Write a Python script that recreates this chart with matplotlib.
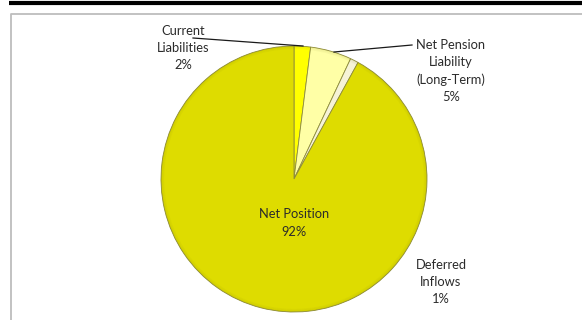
import matplotlib
matplotlib.use("Agg")
import matplotlib.pyplot as plt
from matplotlib.patches import Wedge

# Statement of net position shares (percent)
categories = ["Current\nLiabilities", "Net Pension\nLiability\n(Long-Term)",
              "Deferred\nInflows", "Net Position"]
shares = [2, 5, 1, 92]
colors = ["#FFFF00", "#FFFFA6", "#F6F3D6", "#DEDC00"]

W, H = 582, 320
fig = plt.figure(figsize=(W / 100, H / 100), dpi=100)
ax = fig.add_axes([0, 0, 1, 1])

cx, cy, r = 294, H - 179, 133

wedges, _ = ax.pie(shares, colors=colors, startangle=90, counterclock=False,
                   center=(cx, cy), radius=r, frame=True,
                   wedgeprops=dict(edgecolor="#8E8C3A", linewidth=0.6))

# soft bevel along the outer rim
for i, a in enumerate([0.12, 0.09, 0.06, 0.04]):
    ax.add_patch(Wedge((cx, cy), r - i * 0.8, 0, 360, width=0.8,
                       facecolor="#6E6C00", alpha=a, edgecolor="none"))

ax.set_xlim(0, W)
ax.set_ylim(0, H)
ax.set_aspect("auto")
ax.axis("off")

font = dict(family=["Lato", "DejaVu Sans"], fontsize=9.3, color="#2b2b2b",
            ha="center", va="center", linespacing=1.5)

def label(i):
    return f"{categories[i]}\n{shares[i]}%"

# Current Liabilities with leader line
ax.text(183, H - 48, label(0), **font)
ax.plot([193, 303], [H - 38, H - 46], color="#1a1a1a", lw=0.9)

# Net Pension Liability with leader line
ax.text(451, H - 71, label(1), **font)
ax.plot([334, 412], [H - 52, H - 45], color="#1a1a1a", lw=0.9)

# Deferred Inflows
ax.text(441, H - 282, label(2), **font)

# Net Position inside the slice
ax.text(cx, H - 223, label(3), **font)

# frame decorations
ax.plot([9, W], [H - 2.5, H - 2.5], color="black", lw=3, solid_capstyle="butt")
ax.plot([11, 11, W], [0, H - 14, H - 14], color="#BDBDBD", lw=1.3)

fig.savefig("out.png", dpi=100)
